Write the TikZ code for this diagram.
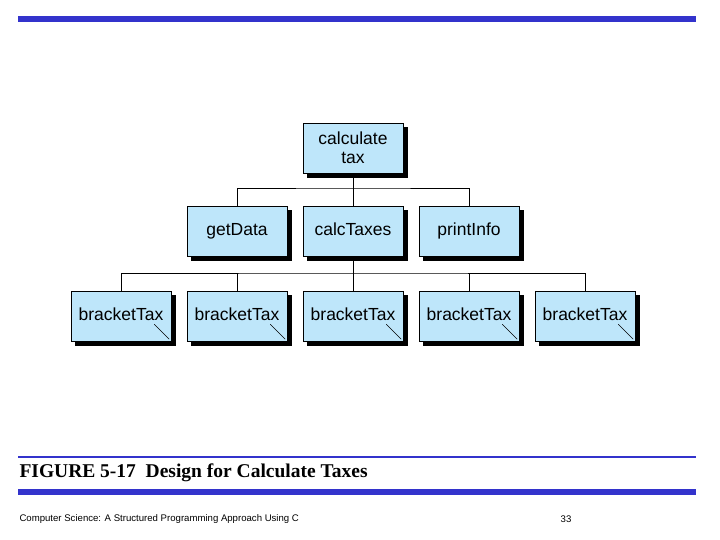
\documentclass[tikz,border=0pt]{standalone}
\usepackage{fontspec}
\setmainfont{Liberation Serif}
\newfontfamily\boxfont{Liberation Sans}
\usetikzlibrary{positioning,shadows}
\definecolor{boxblue}{RGB}{190,230,250}
\definecolor{barblue}{RGB}{51,51,204}
\tikzset{
  module/.style={draw, fill=boxblue, minimum width=100pt, minimum height=50pt,
    align=center, font=\boxfont\fontsize{17.5}{19}\selectfont, inner sep=1pt,
    text height=12pt, text depth=3pt,
    copy shadow={shadow xshift=4pt, shadow yshift=-4pt, fill=black, draw=black}},
  tall/.style={module, text height=, text depth=},
  link/.style={thick}
}
\begin{document}
\begin{tikzpicture}[x=1pt,y=-1pt]
  \useasboundingbox (0,0) rectangle (720,540);
  \fill[barblue] (18,16) rectangle (696,22);
  \node[tall] (calc) at (353,148) {calculate\\tax};
  \node[module] (get) at (237,231) {getData};
  \node[module] (taxes) at (353,231) {calcTaxes};
  \node[module] (print) at (469,231) {printInfo};
  \foreach \i/\x in {1/121,2/237,3/353,4/469,5/585}{
    \node[module] (bt\i) at (\x,316) {bracketTax};
    \draw (bt\i.south east) ++(-2pt,2pt) -- ++(-15pt,15pt);
  }
  \coordinate (top bar) at (353,188);
  \coordinate (low bar) at (353,273);
  \draw[link] (calc) -- (top bar);
  \draw[link] (get.north) |- (top bar) -| (print.north);
  \draw[link] (taxes) -- (top bar);
  \draw[link] (taxes) -- (low bar);
  \draw[link] (bt1.north) |- (low bar) -| (bt5.north);
  \foreach \i in {2,3,4}
    \draw[link] (bt\i.north) -- (bt\i.north |- low bar);
  \draw[barblue, line width=2pt] (18,457) -- (696,457);
  \node[anchor=west, font=\bfseries\fontsize{19.5}{22}\selectfont] (cap) at (16,473) {FIGURE 5-17\ \ Design for Calculate Taxes};
  \fill[barblue] (18,489) rectangle (696,495);
  \node[anchor=west, font=\boxfont\fontsize{9.6}{10}\selectfont] (foot) at (16,519) {Computer Science: A Structured Programming Approach Using C};
  \node[font=\boxfont\fontsize{9.6}{10}\selectfont] (page) at (566,519) {33};
\end{tikzpicture}
\end{document}
